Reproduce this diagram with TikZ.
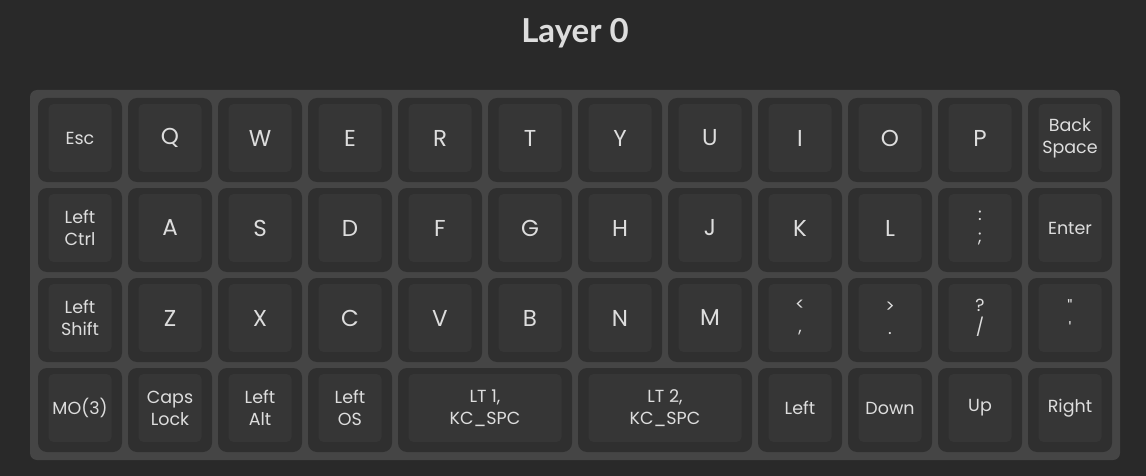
\documentclass[tikz,border=0pt]{standalone}
\usepackage{fontspec}
\newfontfamily\keyfont{Poppins}
\newfontfamily\titlefont{Lato}
\usepackage{tikz}
\usetikzlibrary{positioning}

\definecolor{bgdark}{HTML}{292929}
\definecolor{board}{HTML}{454545}
\definecolor{keyouter}{HTML}{2F2F2F}
\definecolor{keyinner}{HTML}{363636}
\definecolor{keytext}{HTML}{DDDDDD}

\begin{document}
\begin{tikzpicture}[
    x=1pt, y=-1pt,
    keycap/.style={fill=keyouter, rounded corners=9pt, minimum height=84pt, inner sep=0pt},
    keytop/.style={fill=keyinner, rounded corners=5pt, minimum height=68pt, inner sep=0pt, text=keytext, align=center},
    letter/.style={font=\keyfont\fontsize{23}{27}\selectfont},
    word/.style={font=\keyfont\fontsize{17.5}{22}\selectfont},
    title/.style={font=\titlefont\bfseries\fontsize{33}{38}\selectfont, text=keytext}
]

% Background
\fill[bgdark] (0,0) rectangle (1146,476);
\useasboundingbox (0,0) rectangle (1146,476);

\node[title] (title) at (575,33) {Layer 0};

% Board
\fill[board, rounded corners=7pt] (30,90) rectangle (1120,460);

% Row 1
\foreach \i/\lbl/\sty in {0/Esc/word, 1/Q/letter, 2/W/letter, 3/E/letter, 4/R/letter, 5/T/letter,
    6/Y/letter, 7/U/letter, 8/I/letter, 9/O/letter, 10/P/letter, 11/{Back\\Space}/word} {
    \node[keycap, minimum width=84pt] (r1c\i) at ({80+90*\i},140) {};
    \node[keytop, \sty, minimum width=63pt] (r1c\i-top) at ({80+90*\i},138) {\lbl};
}

% Row 2
\foreach \i/\lbl/\sty in {0/{Left\\Ctrl}/word, 1/A/letter, 2/S/letter, 3/D/letter, 4/F/letter, 5/G/letter,
    6/H/letter, 7/J/letter, 8/K/letter, 9/L/letter, 10/{:\\;}/word, 11/Enter/word} {
    \node[keycap, minimum width=84pt] (r2c\i) at ({80+90*\i},230) {};
    \node[keytop, \sty, minimum width=63pt] (r2c\i-top) at ({80+90*\i},228) {\lbl};
}

% Row 3
\foreach \i/\lbl/\sty in {0/{Left\\Shift}/word, 1/Z/letter, 2/X/letter, 3/C/letter, 4/V/letter, 5/B/letter,
    6/N/letter, 7/M/letter, 8/{<\\,}/word, 9/{>\\.}/word, 10/{?\\/}/word, 11/{"\\'}/word} {
    \node[keycap, minimum width=84pt] (r3c\i) at ({80+90*\i},320) {};
    \node[keytop, \sty, minimum width=63pt] (r3c\i-top) at ({80+90*\i},318) {\lbl};
}

% Row 4 (two wide space keys)
\foreach \i/\w/\lbl in {0/1/MO(3), 1/1/{Caps\\Lock}, 2/1/{Left\\Alt}, 3/1/{Left\\OS},
    4/2/{LT 1,\\KC\_SPC}, 6/2/{LT 2,\\KC\_SPC}, 8/1/Left, 9/1/Down, 10/1/{\vphantom{L}Up}, 11/1/Right} {
    \pgfmathsetmacro\kx{38+90*\i+(90*\w-6)/2}
    \pgfmathsetmacro\kw{90*\w-6}
    \pgfmathsetmacro\tw{90*\w-27}
    \node[keycap, minimum width=\kw pt] (r4c\i) at (\kx,410) {};
    \node[keytop, word, minimum width=\tw pt] (r4c\i-top) at (\kx,408) {\lbl};
}

\end{tikzpicture}
\end{document}
